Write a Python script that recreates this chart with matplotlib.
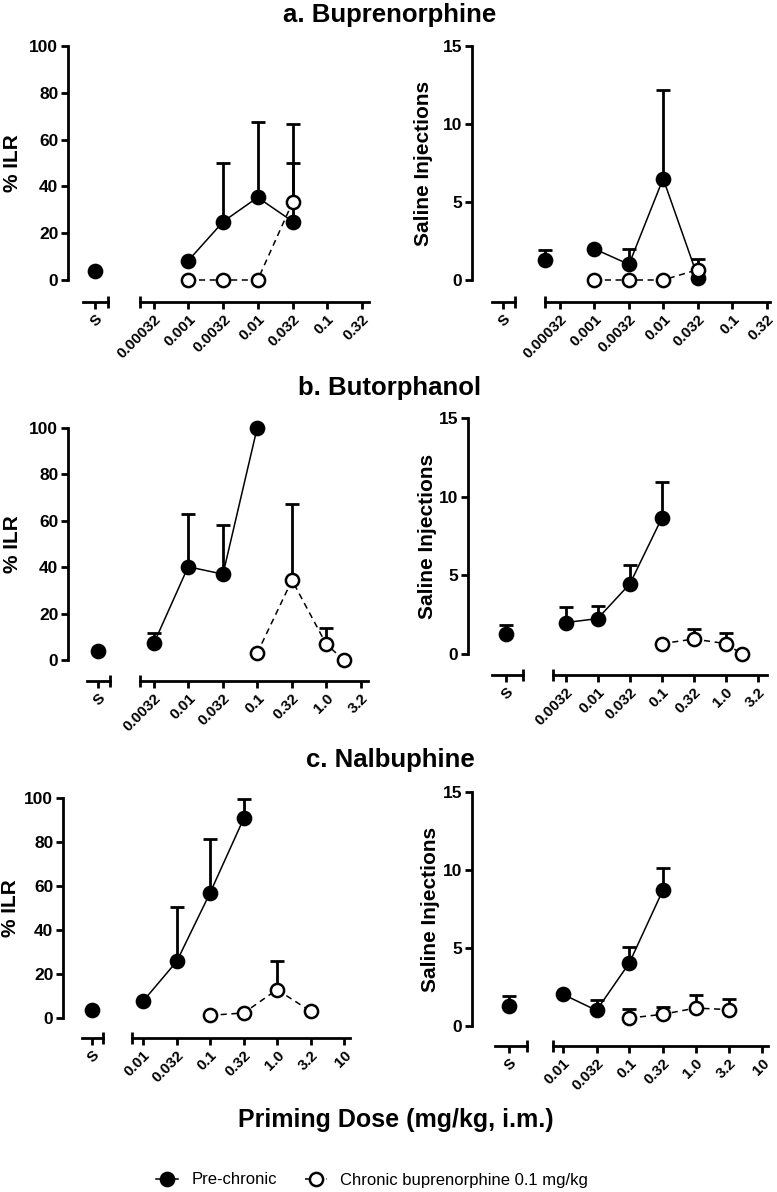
import numpy as np
import matplotlib.pyplot as plt
from matplotlib.lines import Line2D
from matplotlib.ticker import FixedLocator, NullFormatter

plt.rcParams['font.family'] = ['Liberation Sans', 'DejaVu Sans']

W, H = 777, 1192

# ---------------- data ----------------
# a. Buprenorphine
bup_ticks = [0.00032, 0.001, 0.0032, 0.01, 0.032, 0.1, 0.32]
bup_ticklabels = ["0.00032", "0.001", "0.0032", "0.01", "0.032", "0.1", "0.32"]
bup_pre_dose = [0.001, 0.0032, 0.01, 0.032]
bup_chr_dose = [0.001, 0.0032, 0.01, 0.032]
bup_sal_ilr, bup_sal_ilr_err = 4.0, 0.0
bup_pre_ilr = [8.3, 25.0, 35.3, 25.0]
bup_pre_ilr_err = [0.0, 25.0, 32.1, 25.0]
bup_chr_ilr = [0.0, 0.0, 0.0, 33.3]
bup_chr_ilr_err = [0.0, 0.0, 0.0, 33.3]
bup_sal_inj, bup_sal_inj_err = 1.3, 0.6
bup_pre_inj = [2.0, 1.0, 6.5, 0.15]
bup_pre_inj_err = [0.0, 1.0, 5.7, 0.0]
bup_chr_inj = [0.0, 0.0, 0.0, 0.67]
bup_chr_inj_err = [0.0, 0.0, 0.0, 0.67]

# b. Butorphanol
but_ticks = [0.0032, 0.01, 0.032, 0.1, 0.32, 1.0, 3.2]
but_ticklabels = ["0.0032", "0.01", "0.032", "0.1", "0.32", "1.0", "3.2"]
but_pre_dose = [0.0032, 0.01, 0.032, 0.1]
but_chr_dose = [0.1, 0.32, 1.0, 1.8]
but_sal_ilr, but_sal_ilr_err = 3.9, 0.0
but_pre_ilr = [7.3, 40.2, 37.0, 100.0]
but_pre_ilr_err = [4.2, 22.9, 21.4, 0.0]
but_chr_ilr = [2.9, 34.4, 6.9, 0.0]
but_chr_ilr_err = [0.0, 32.7, 6.9, 0.0]
but_sal_inj, but_sal_inj_err = 1.27, 0.59
but_pre_inj = [2.0, 2.25, 4.47, 8.62]
but_pre_inj_err = [0.96, 0.82, 1.17, 2.33]
but_chr_inj = [0.66, 0.95, 0.66, 0.0]
but_chr_inj_err = [0.0, 0.64, 0.67, 0.0]

# c. Nalbuphine
nal_ticks = [0.01, 0.032, 0.1, 0.32, 1.0, 3.2, 10]
nal_ticklabels = ["0.01", "0.032", "0.1", "0.32", "1.0", "3.2", "10"]
nal_pre_dose = [0.01, 0.032, 0.1, 0.32]
nal_chr_dose = [0.1, 0.32, 1.0, 3.2]
nal_sal_ilr, nal_sal_ilr_err = 3.8, 0.0
nal_pre_ilr = [7.6, 25.8, 56.8, 90.8]
nal_pre_ilr_err = [0.0, 24.7, 24.7, 8.7]
nal_chr_ilr = [1.2, 2.3, 12.9, 3.0]
nal_chr_ilr_err = [0.0, 0.0, 12.9, 0.0]
nal_sal_inj, nal_sal_inj_err = 1.28, 0.62
nal_pre_inj = [2.03, 1.0, 4.04, 8.7]
nal_pre_inj_err = [0.0, 0.64, 1.02, 1.45]
nal_chr_inj = [0.51, 0.75, 1.15, 1.05]
nal_chr_inj_err = [0.58, 0.47, 0.82, 0.7]

titles = ["a. Buprenorphine", "b. Butorphanol", "c. Nalbuphine"]

# ---------------- layout (pixels) ----------------
# y-axis x, S seg left/right/tick, main left/right, first/last tick px,
# top, y0, x-axis y, y-label centre x
layouts = {
    "aL": (68, 83, 108, 95, 140, 369, 154, 362, 46, 280, 302, 12),
    "aR": (472, 492, 515, 503, 545, 770, 560, 767, 46, 280, 302, 424),
    "bL": (68, 87, 110, 98, 140, 368, 154, 361, 428, 660, 681, 12),
    "bR": (468, 492, 523, 506, 553, 767, 566, 758, 418, 654, 675, 427),
    "cL": (63, 82, 103, 92, 132, 350, 143, 344, 798, 1018, 1038, 11),
    "cR": (472, 495, 527, 509, 553, 768, 563, 762, 792, 1026, 1046, 430),
}
title_y = [15, 388, 760]

PX = 72.0 / 100  # points per pixel

fig = plt.figure(figsize=(W / 100, H / 100), dpi=100)


def add_px(left, top, right, bottom):
    return fig.add_axes([left / W, 1 - bottom / H, (right - left) / W, (bottom - top) / H])


def plot_series(ax, x, y, e, filled, ls):
    x = np.asarray(x, float)
    y = np.asarray(y, float)
    e = np.asarray(e, float)
    ax.plot(x, y, color="black", lw=1.1, ls=ls, zorder=2, clip_on=False)
    m = e > 0
    if m.any():
        ax.errorbar(x[m], y[m], yerr=[np.zeros(m.sum()), e[m]], fmt="none",
                    ecolor="black", elinewidth=2, capsize=4.7, capthick=2,
                    zorder=3, clip_on=False)
    ax.plot(x, y, ls="none", marker="o", ms=9.5,
            mfc="black" if filled else "white", mec="black", mew=1.8,
            zorder=4, clip_on=False)


def draw_panel(lay, ticks, ticklabels, ymax, yticks, ylabel,
               sal, sal_err, pre_x, pre_y, pre_e, chr_x, chr_y, chr_e,
               sal_on_main=False):
    yax, sl, sr, st, ml, mr, p0, p1, top, y0, xa, lx = lay
    ax_s = add_px(sl, top, sr, y0)
    ax_m = add_px(ml, top, mr, y0)

    # log limits so that first/last tick fall on measured pixels
    k = (np.log10(ticks[-1]) - np.log10(ticks[0])) / (p1 - p0)
    lo = 10 ** (np.log10(ticks[0]) - (p0 - ml) * k)
    hi = 10 ** (np.log10(ticks[-1]) + (mr - p1) * k)

    for ax in (ax_s, ax_m):
        ax.set_ylim(0, ymax)
        ax.patch.set_visible(False)
        for sp in ("top", "right"):
            ax.spines[sp].set_visible(False)
        ax.spines["bottom"].set_position(("outward", (xa - y0) * PX))
        ax.spines["bottom"].set_linewidth(2)
        ax.spines["left"].set_linewidth(2)
        ax.tick_params(axis="x", which="major", direction="out", length=5,
                       width=2, labelsize=11, pad=2)
        ax.tick_params(axis="x", which="minor", direction="inout", length=9,
                       width=2)

    # saline (S) axis, carries the y axis
    ax_s.set_xlim(-(st - sl), sr - st)
    ax_s.spines["left"].set_position(("outward", (sl - yax) * PX))
    ax_s.set_xticks([0], ["S"])
    ax_s.set_xticks([sr - st], minor=True)
    ax_s.set_yticks(yticks, [str(v) for v in yticks])
    ax_s.tick_params(axis="y", direction="out", length=5, width=2,
                     labelsize=12.5, pad=2)
    fig.text(lx / W, 1 - (top + y0) / 2 / H, ylabel, rotation=90,
             ha="center", va="center", fontsize=15, fontweight="bold")

    # main dose axis
    ax_m.spines["left"].set_visible(False)
    ax_m.set_yticks([])
    ax_m.set_xscale("log")
    ax_m.set_xlim(lo, hi)
    ax_m.set_xticks(ticks, ticklabels)
    ax_m.xaxis.set_minor_locator(FixedLocator([lo]))
    ax_m.xaxis.set_minor_formatter(NullFormatter())

    for ax in (ax_s, ax_m):
        for lbl in ax.get_xticklabels() + ax.get_yticklabels():
            lbl.set_fontweight("bold")
        plt.setp(ax.get_xticklabels(), rotation=45, ha="right",
                 rotation_mode="anchor")

    # saline point (in panel a right it sits at the start of the dose axis)
    if sal_on_main:
        plot_series(ax_m, [lo], [sal], [sal_err], True, "-")
    else:
        plot_series(ax_s, [0], [sal], [sal_err], True, "-")
    plot_series(ax_m, pre_x, pre_y, pre_e, True, "-")
    plot_series(ax_m, chr_x, chr_y, chr_e, False, (0, (4, 3)))


ilr_ticks = [0, 20, 40, 60, 80, 100]
inj_ticks = [0, 5, 10, 15]

draw_panel(layouts["aL"], bup_ticks, bup_ticklabels, 100, ilr_ticks, "% ILR",
           bup_sal_ilr, bup_sal_ilr_err, bup_pre_dose, bup_pre_ilr, bup_pre_ilr_err,
           bup_chr_dose, bup_chr_ilr, bup_chr_ilr_err)
draw_panel(layouts["aR"], bup_ticks, bup_ticklabels, 15, inj_ticks, "Saline Injections",
           bup_sal_inj, bup_sal_inj_err, bup_pre_dose, bup_pre_inj, bup_pre_inj_err,
           bup_chr_dose, bup_chr_inj, bup_chr_inj_err, sal_on_main=True)
draw_panel(layouts["bL"], but_ticks, but_ticklabels, 100, ilr_ticks, "% ILR",
           but_sal_ilr, but_sal_ilr_err, but_pre_dose, but_pre_ilr, but_pre_ilr_err,
           but_chr_dose, but_chr_ilr, but_chr_ilr_err)
draw_panel(layouts["bR"], but_ticks, but_ticklabels, 15, inj_ticks, "Saline Injections",
           but_sal_inj, but_sal_inj_err, but_pre_dose, but_pre_inj, but_pre_inj_err,
           but_chr_dose, but_chr_inj, but_chr_inj_err)
draw_panel(layouts["cL"], nal_ticks, nal_ticklabels, 100, ilr_ticks, "% ILR",
           nal_sal_ilr, nal_sal_ilr_err, nal_pre_dose, nal_pre_ilr, nal_pre_ilr_err,
           nal_chr_dose, nal_chr_ilr, nal_chr_ilr_err)
draw_panel(layouts["cR"], nal_ticks, nal_ticklabels, 15, inj_ticks, "Saline Injections",
           nal_sal_inj, nal_sal_inj_err, nal_pre_dose, nal_pre_inj, nal_pre_inj_err,
           nal_chr_dose, nal_chr_inj, nal_chr_inj_err)

for t, ty in zip(titles, title_y):
    fig.text(390 / W, 1 - ty / H, t, ha="center", va="center",
             fontsize=18.5, fontweight="bold")

fig.text(396 / W, 1 - 1120 / H, "Priming Dose (mg/kg, i.m.)", ha="center",
         va="center", fontsize=18, fontweight="bold")

handles = [
    Line2D([], [], color="black", lw=1.1, marker="o", ms=9.5, mfc="black",
           mec="black", mew=1.8),
    Line2D([], [], color="black", lw=1.1, ls=(0, (4, 3)), marker="o", ms=9.5,
           mfc="white", mec="black", mew=1.8),
]
fig.legend(handles, ["Pre-chronic", "Chronic buprenorphine 0.1 mg/kg"],
           loc="center", bbox_to_anchor=(372 / W, 1 - 1180 / H), ncol=2,
           frameon=False, prop={"size": 12}, handlelength=1.3,
           handletextpad=0.8, columnspacing=1.7)

fig.savefig("out.png", dpi=100)
